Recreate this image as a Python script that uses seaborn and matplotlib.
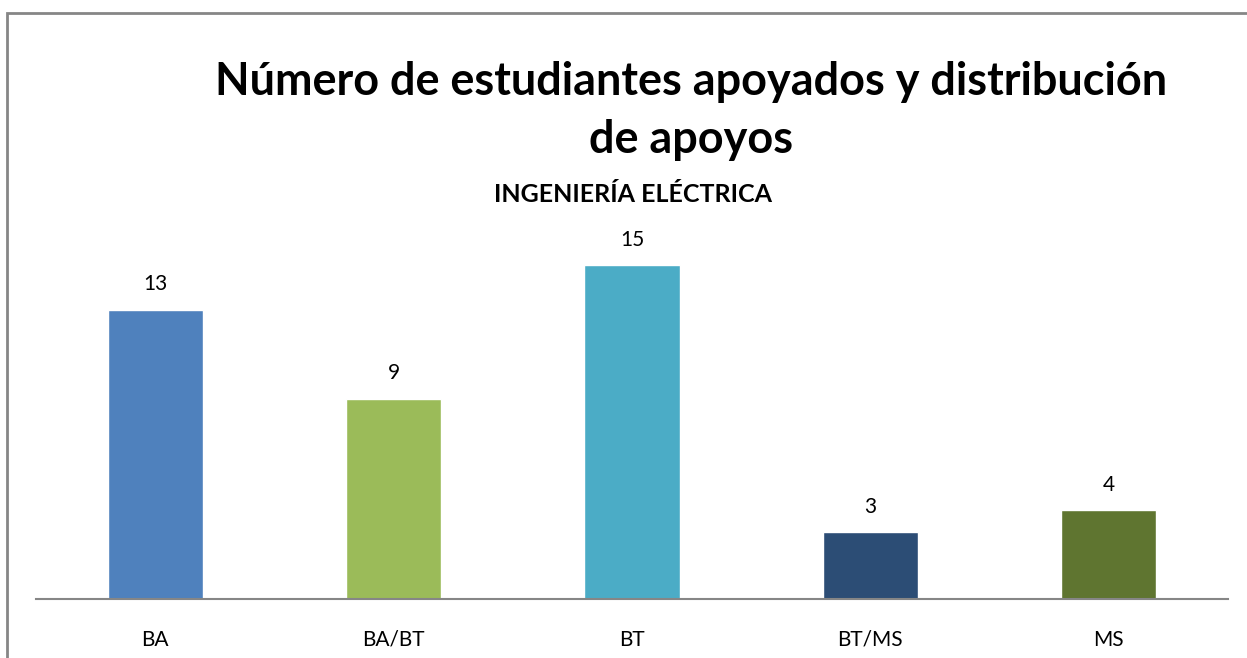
import matplotlib
matplotlib.use("Agg")
import matplotlib.pyplot as plt
import seaborn as sns
import pandas as pd
from matplotlib.patches import Rectangle

categories = ["BA", "BA/BT", "BT", "BT/MS", "MS"]
values = [13, 9, 15, 3, 4]
colors = ["#4F81BD", "#9BBB59", "#4BACC6", "#2C4D75", "#5F7530"]

sns.set_theme(style="white")
plt.rcParams['font.family'] = ['Lato', 'DejaVu Sans']
plt.rcParams['text.color'] = 'black'

df = pd.DataFrame({"cat": categories, "val": values})

fig = plt.figure(figsize=(12.47, 6.58), dpi=100)
ax = fig.add_axes([36/1247, 59/658, (1228-36)/1247, (599-220)/658])

sns.barplot(data=df, x="cat", y="val", hue="cat", palette=colors, order=categories,
            hue_order=categories, width=0.40, legend=False, ax=ax, saturation=1)
ax.set_xlim(-0.5, 4.5)
ax.set_ylim(0, (599-220)/(334/15))

for s in ["top", "right", "left"]:
    ax.spines[s].set_visible(False)
ax.spines["bottom"].set_color("#868686")
ax.spines["bottom"].set_linewidth(1.5)
ax.set_yticks([])
ax.set_xlabel("")
ax.set_ylabel("")
ax.tick_params(axis="x", length=0, labelsize=15, pad=22, colors="black")

for c in ax.containers:
    ax.bar_label(c, labels=[str(int(v)) for v in c.datavalues], padding=11,
                 fontsize=15, color="black")

fig.text(691/1247, 1-82/658, "Número de estudiantes apoyados y distribución",
         ha="center", va="center", fontsize=32.4, fontweight="bold", color="black")
fig.text(691/1247, 1-140/658, "de apoyos", ha="center", va="center",
         fontsize=32.4, fontweight="bold", color="black")
fig.text(633/1247, 1-195/658, "INGENIERÍA ELÉCTRICA", ha="center", va="center",
         fontsize=18, fontweight="bold", color="black")

fig.patches.append(Rectangle((7/1247, -0.1), 1.2, (1+0.1) - 13/658, transform=fig.transFigure,
                             fill=False, edgecolor="#868686", linewidth=2))

fig.savefig("out.png", dpi=100)
